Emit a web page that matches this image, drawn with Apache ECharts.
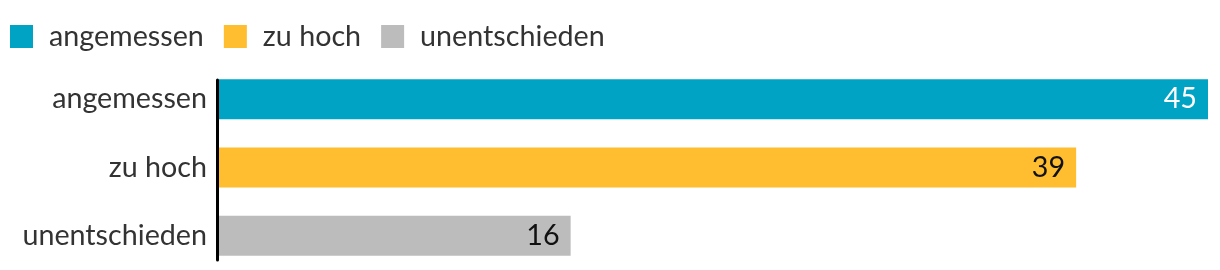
<!DOCTYPE html>
<html><head><meta charset="utf-8">
<script src="https://cdn.jsdelivr.net/npm/echarts@6/dist/echarts.min.js"></script>
<style>html,body{margin:0;padding:0;background:#fff}#c{width:1220px;height:270px}</style>
</head><body><div id="c"></div>
<script>
const categories = ['angemessen', 'zu hoch', 'unentschieden'];
const values = [45, 39, 16];
const colors = ['#00a3c3', '#febe2f', '#bcbcbc'];
const labelColors = ['#ffffff', '#111111', '#111111'];

const FONT = 'Lato';
const FS = 28.7;

const chart = echarts.init(document.getElementById('c'), null, {renderer: 'canvas'});
const series = categories.map((name, i) => ({
  name: name,
  type: 'bar',
  stack: 'all',
  xAxisIndex: 0, yAxisIndex: 0,
  barWidth: 40,
  itemStyle: {color: colors[i]},
  label: {
    show: true, position: 'insideRight', distance: 11,
    color: labelColors[i], fontFamily: FONT, fontSize: FS
  },
  data: categories.map((c, j) => j === i ? values[j] : '-')
}));

chart.setOption({
  animation: false,
  textStyle: {fontFamily: FONT},
  legend: {
    left: 10, top: 22, padding: 0,
    itemWidth: 23, itemHeight: 23, itemGap: 20,
    icon: 'rect',
    textStyle: {fontFamily: FONT, fontSize: FS, color: '#333333', padding: [0, 0, 0, 11]},
    data: categories
  },
  grid: [
    {left: 219, right: 12, top: 65, height: 210, containLabel: false},
    {left: 217.5, right: 12, top: 80, bottom: 10, containLabel: false}
  ],
  xAxis: [
    {type: 'value', gridIndex: 0, min: 0, max: 45, show: false},
    {type: 'value', gridIndex: 1, min: 0, max: 1, show: false}
  ],
  yAxis: [
    {
      type: 'category', gridIndex: 0, data: categories, inverse: true,
      axisLine: {show: false}, axisTick: {show: false},
      axisLabel: {margin: 12, fontFamily: FONT, fontSize: FS, color: '#333333'}
    },
    {
      type: 'value', gridIndex: 1, min: 0, max: 1,
      axisLine: {show: true, lineStyle: {color: '#000', width: 3}},
      axisTick: {show: false}, axisLabel: {show: false}, splitLine: {show: false}
    }
  ],
  series: series
});
</script></body></html>
